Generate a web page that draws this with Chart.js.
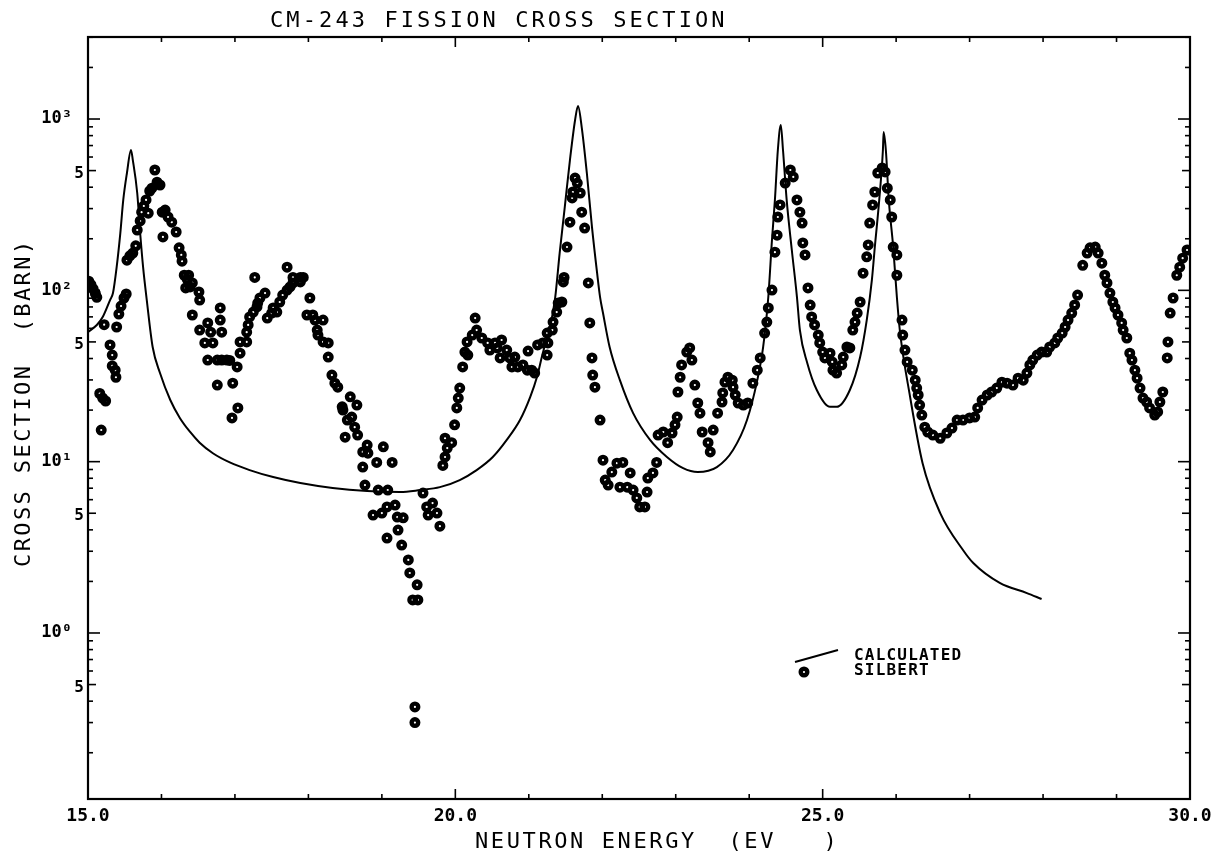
<!DOCTYPE html>
<html lang="en">
  <head>
    <meta charset="UTF-8">
    <title>CM-243 Fission Cross Section</title>
    <script src="https://cdn.jsdelivr.net/npm/chart.js"></script>
    <style>
      html, body { margin: 0; padding: 0; background: #fff; }
    </style>
  </head>
  <body>
    <canvas id="graf" width="1224" height="859"></canvas>
    <script>
        // Axis ranges (eV, barn)
        const xMin = 15, xMax = 30;
        const yMin = 0.1074, yMax = 3011;
        const xLabelTicks = [15, 20, 25, 30];
        const yDecadeLabels = { 0: '10\u2070', 1: '10\u00b9', 2: '10\u00b2', 3: '10\u00b3' };
        const yFiveLabels = [0.5, 5, 50, 500];

        // Silbert measurement (energy in eV, cross section in barn)
        const silbertE = [
            15.01, 15.04, 15.07, 15.10, 15.12, 15.16, 15.18, 15.20, 15.22, 15.24,
            15.30, 15.33, 15.33, 15.37, 15.38, 15.39, 15.42, 15.45, 15.49, 15.52,
            15.53, 15.57, 15.61, 15.65, 15.67, 15.71, 15.73, 15.76, 15.79, 15.82,
            15.84, 15.87, 15.91, 15.94, 15.98, 16.01, 16.02, 16.05, 16.09, 16.14,
            16.20, 16.24, 16.27, 16.28, 16.31, 16.33, 16.35, 16.37, 16.39, 16.42,
            16.42, 16.51, 16.52, 16.52, 16.59, 16.63, 16.63, 16.67, 16.70, 16.76,
            16.76, 16.80, 16.80, 16.82, 16.82, 16.89, 16.93, 16.96, 16.97, 17.03,
            17.04, 17.07, 17.07, 17.16, 17.16, 17.18, 17.20, 17.25, 17.27, 17.30,
            17.31, 17.34, 17.41, 17.44, 17.50, 17.52, 17.57, 17.61, 17.65, 17.71,
            17.71, 17.75, 17.79, 17.79, 17.89, 17.89, 17.93, 17.98, 18.02, 18.06,
            18.09, 18.12, 18.13, 18.20, 18.20, 18.27, 18.27, 18.32, 18.36, 18.40,
            18.46, 18.47, 18.50, 18.53, 18.57, 18.59, 18.63, 18.66, 18.67, 18.74,
            18.74, 18.77, 18.80, 18.81, 18.88, 18.93, 18.95, 19.00, 19.02, 19.07,
            19.07, 19.08, 19.14, 19.18, 19.21, 19.22, 19.27, 19.29, 19.36, 19.38,
            19.42, 19.45, 19.45, 19.48, 19.49, 19.56, 19.61, 19.63, 19.69, 19.75,
            19.79, 19.83, 19.86, 19.86, 19.89, 19.95, 19.99, 20.02, 20.04, 20.06,
            20.10, 20.13, 20.16, 20.17, 20.23, 20.27, 20.29, 20.36, 20.44, 20.47,
            20.54, 20.57, 20.61, 20.63, 20.70, 20.74, 20.77, 20.81, 20.85, 20.92,
            20.98, 20.99, 21.04, 21.08, 21.12, 21.19, 21.25, 21.25, 21.26, 21.32,
            21.33, 21.38, 21.40, 21.45, 21.47, 21.48, 21.52, 21.56, 21.59, 21.60,
            21.63, 21.66, 21.70, 21.72, 21.76, 21.81, 21.83, 21.86, 21.87, 21.90,
            21.97, 22.01, 22.04, 22.08, 22.13, 22.20, 22.24, 22.28, 22.34, 22.38,
            22.42, 22.47, 22.51, 22.58, 22.61, 22.62, 22.69, 22.74, 22.76, 22.83,
            22.89, 22.95, 22.99, 23.02, 23.03, 23.06, 23.08, 23.15, 23.19, 23.22,
            23.26, 23.30, 23.33, 23.36, 23.44, 23.47, 23.51, 23.57, 23.63, 23.64,
            23.67, 23.71, 23.77, 23.78, 23.81, 23.85, 23.92, 23.98, 24.05, 24.11,
            24.15, 24.21, 24.24, 24.26, 24.31, 24.35, 24.38, 24.39, 24.42, 24.49,
            24.56, 24.60, 24.65, 24.69, 24.72, 24.73, 24.76, 24.80, 24.83, 24.85,
            24.89, 24.94, 24.96, 25.00, 25.03, 25.10, 25.13, 25.14, 25.19, 25.26,
            25.28, 25.33, 25.37, 25.41, 25.44, 25.47, 25.51, 25.55, 25.60, 25.62,
            25.64, 25.68, 25.71, 25.75, 25.81, 25.85, 25.88, 25.92, 25.94, 25.96,
            26.01, 26.01, 26.08, 26.09, 26.12, 26.15, 26.22, 26.26, 26.28, 26.30,
            26.32, 26.35, 26.39, 26.43, 26.50, 26.60, 26.69, 26.76, 26.83, 26.91,
            27.00, 27.07, 27.11, 27.17, 27.24, 27.30, 27.37, 27.44, 27.51, 27.59,
            27.66, 27.73, 27.78, 27.82, 27.86, 27.92, 27.98, 28.05, 28.09, 28.16,
            28.20, 28.26, 28.30, 28.34, 28.39, 28.43, 28.47, 28.54, 28.60, 28.64,
            28.71, 28.75, 28.80, 28.84, 28.87, 28.91, 28.95, 28.98, 29.02, 29.07,
            29.09, 29.14, 29.18, 29.21, 29.25, 29.28, 29.32, 29.36, 29.41, 29.45,
            29.52, 29.56, 29.59, 29.63, 29.69, 29.70, 29.73, 29.77, 29.82, 29.86,
            29.90, 29.96
        ];
        const silbertXS = [
            113, 108, 102, 96, 91, 25, 15.3, 23.5, 63, 22.6,
            48, 41.9, 36.2, 34.2, 31.1, 61.1, 72.7, 81, 90.2, 95.2,
            150, 159, 165, 182, 225, 254, 286, 311, 337, 282,
            380, 395, 504, 428, 412, 286, 205, 294, 268, 250,
            219, 177, 161, 148, 122.5, 103.3, 116, 122.5, 104.7, 110.5,
            71.8, 97.8, 87.8, 58.6, 49.3, 64.5, 39.2, 57, 49.3, 39.2,
            28, 78.9, 67.1, 57, 39.2, 39.2, 39, 18, 28.7, 35.7,
            20.6, 43, 50, 50, 57, 62.8, 69.9, 74.7, 119, 80,
            84.3, 90.2, 96.4, 68.9, 73.7, 78.9, 74.7, 85.5, 93.9, 100.4,
            136.6, 104.7, 110.5, 119, 112, 119, 119, 71.8, 90.2, 71.8,
            67.1, 58.6, 54.8, 67.1, 50, 49.3, 40.8, 32, 28.7, 27.2,
            20.9, 20, 13.9, 17.5, 23.9, 18.2, 15.9, 21.4, 14.3, 11.4,
            9.3, 7.3, 12.5, 11.2, 4.88, 9.9, 6.83, 5.01, 12.2, 5.44,
            3.58, 6.83, 9.9, 5.58, 4.75, 3.99, 3.26, 4.7, 2.67, 2.24,
            1.56, 0.37, 0.30, 1.91, 1.56, 6.56, 5.44, 4.88, 5.73, 5.01,
            4.2, 9.5, 10.65, 13.7, 12.0, 12.9, 16.4, 20.6, 23.5, 26.9,
            35.7, 43.6, 50, 41.9, 54.8, 68.9, 58.6, 52.7, 49.3, 44.8,
            49.3, 46.1, 40.3, 51.3, 44.8, 40.3, 35.7, 40.8, 35.7, 36.7,
            34.2, 44.2, 34.2, 32.9, 48, 49.3, 41.9, 56.3, 49.3, 58.6,
            65.3, 74.7, 84.3, 85.5, 112, 119, 179, 250, 346, 375,
            452, 423, 370, 286, 231, 110.5, 64.5, 40.3, 32, 27.2,
            17.5, 10.2, 7.81, 7.3, 8.7, 9.8, 7.1, 9.9, 7.1, 8.6,
            6.83, 6.14, 5.44, 5.44, 6.65, 8.02, 8.6, 9.9, 14.3, 14.9,
            12.9, 14.7, 16.4, 18.2, 25.5, 31.1, 36.7, 43.6, 46.1, 39.2,
            28, 22, 19.2, 14.9, 12.9, 11.4, 15.3, 19.2, 22.3, 25.2,
            29.1, 31.1, 29.9, 27.2, 24.5, 22, 21.4, 22, 28.7, 34.2,
            40.3, 56.3, 65.3, 78.9, 100.4, 167, 210, 268, 315, 423,
            504, 459, 337, 286, 247, 189, 161, 103.3, 82.1, 69.9,
            62.8, 54.8, 49.3, 43.6, 40.3, 43, 38.2, 34.2, 32.9, 36.7,
            40.8, 46.7, 46.1, 58.6, 65.3, 73.7, 85.5, 126, 157, 184,
            247, 315, 375, 484, 518, 491, 395, 337, 268, 179,
            161, 122.5, 67.1, 54.8, 44.8, 38.2, 34.2, 29.9, 26.9, 24.5,
            21.4, 18.7, 15.9, 14.9, 14.3, 13.7, 14.7, 15.7, 17.5, 17.5,
            18, 18.2, 20.6, 22.9, 24.5, 25.5, 26.9, 29.1, 28.7, 28,
            30.7, 29.9, 32.9, 36.7, 39.2, 41.9, 43.6, 43.6, 46.7, 49.3,
            52.7, 56.3, 61.1, 67.1, 73.7, 82.1, 93.9, 140, 165, 177,
            179, 165, 144, 122.5, 110.5, 96.4, 85.5, 78.9, 71.8, 64.5,
            58.6, 52.7, 43, 39.2, 34.2, 30.7, 26.9, 23.5, 22.3, 20.6,
            18.7, 19.5, 22.3, 25.5, 40.3, 50, 73.7, 90.2, 122.5, 136.6,
            154, 172
        ];

        // Calculated curve
        const calcE = [
            15.00, 15.12, 15.20, 15.30, 15.34, 15.39, 15.44, 15.48, 15.53, 15.585,
            15.61, 15.67, 15.71, 15.75, 15.80, 15.88, 15.98, 16.12, 16.25,
            16.39, 16.52, 16.70, 16.93, 17.20, 17.52, 17.89, 18.33, 18.80, 19.25,
            19.52, 19.79, 20.06, 20.29, 20.51, 20.70, 20.88, 21.02, 21.11, 21.19,
            21.29, 21.36, 21.42, 21.49, 21.56, 21.63, 21.67, 21.72, 21.79, 21.86,
            21.93, 21.97, 22.01, 22.10, 22.24, 22.42, 22.65, 22.88, 23.10, 23.30,
            23.56, 23.78, 23.97, 24.11, 24.19, 24.26, 24.31, 24.35, 24.39, 24.43,
            24.46, 24.51, 24.58, 24.65, 24.69, 24.79, 24.92, 25.10, 25.19, 25.37,
            25.51, 25.60, 25.67, 25.71, 25.77, 25.82, 25.83, 25.86, 25.90, 25.96,
            26.01, 26.05, 26.19, 26.36, 26.60, 26.91, 27.05, 27.41, 27.78, 27.98
        ];
        const calcXS = [
            57.1, 62.8, 69.9, 87.8, 96.4, 136.6, 216, 337, 484, 659,
            576, 370, 216, 136.6, 87.8, 46.7, 32.9, 22.9, 18,
            14.9, 12.9, 11.2, 9.9, 8.93, 8.13, 7.5, 7.02, 6.74, 6.65,
            6.83, 7.1, 7.81, 8.93, 10.65, 13.4, 17.5, 23.9, 31.1, 43,
            61.1, 91.4, 165, 307, 576, 987, 1190, 898, 484, 234,
            126, 91.4, 73.7, 46.7, 29.9, 19.2, 13.4, 10.65, 9.16, 8.7,
            9.3, 11.7, 17.5, 29.9, 46.7, 91.4, 197, 337, 659, 922,
            659, 337, 172, 91.4, 58.6, 37.7, 26.2, 20.9, 20.9, 26.2,
            40.8, 67.1, 115, 179, 337, 659, 840, 659, 337, 179,
            91.4, 58.6, 23.9, 9.8, 5.01, 3.05, 2.56, 1.96, 1.71, 1.58
        ];

        const monoFont = '"DejaVu Sans Mono", "Liberation Mono", monospace';

        // Frame, inward ticks, tick labels, titles and legend
        const teikning = {
            id: 'teikning',
            afterDraw(chart) {
                const { ctx, chartArea: a, scales: { x, y } } = chart;
                const lina = (x1, y1, x2, y2) => {
                    ctx.beginPath(); ctx.moveTo(x1, y1); ctx.lineTo(x2, y2); ctx.stroke();
                };
                ctx.save();
                ctx.strokeStyle = '#000';
                ctx.fillStyle = '#000';

                ctx.lineWidth = 2.2;
                ctx.strokeRect(a.left, a.top, a.right - a.left, a.bottom - a.top);

                // x ticks every 1 eV
                ctx.lineWidth = 1.6;
                for (let e = xMin; e <= xMax; e++) {
                    const px = x.getPixelForValue(e);
                    const len = e % 5 === 0 ? 10 : 5;
                    lina(px, a.bottom, px, a.bottom - len);
                    lina(px, a.top, px, a.top + len);
                }

                // y ticks on both sides
                for (let d = -1; d <= 3; d++) {
                    for (let m = 1; m <= 9; m++) {
                        const v = m * Math.pow(10, d);
                        if (v < yMin || v > yMax) continue;
                        const py = y.getPixelForValue(v);
                        const len = m === 1 ? 12 : (m === 5 ? 8 : 5);
                        lina(a.left, py, a.left + len, py);
                        lina(a.right, py, a.right - len, py);
                    }
                }

                // y tick labels
                ctx.textBaseline = 'middle';
                ctx.textAlign = 'right';
                ctx.font = 'bold 17px ' + monoFont;
                for (const d in yDecadeLabels) {
                    ctx.fillText(yDecadeLabels[d], 72, y.getPixelForValue(Math.pow(10, +d)));
                }
                ctx.font = 'bold 16px ' + monoFont;
                for (const v of yFiveLabels) {
                    ctx.fillText('5', 84, y.getPixelForValue(v) + 3);
                }

                // titles
                ctx.textAlign = 'left';
                ctx.textBaseline = 'alphabetic';
                ctx.font = '22px ' + monoFont;
                ctx.letterSpacing = '3.1px';
                ctx.fillText('CM-243 FISSION CROSS SECTION', 270, 27);
                ctx.letterSpacing = '2.6px';
                ctx.fillText('NEUTRON ENERGY  (EV   )', 475, 848);

                ctx.save();
                ctx.translate(30, 567);
                ctx.rotate(-Math.PI / 2);
                ctx.letterSpacing = '2.4px';
                ctx.fillText('CROSS SECTION  (BARN)', 0, 0);
                ctx.restore();

                // legend
                ctx.lineWidth = 2;
                lina(795, 662, 838, 650);
                ctx.lineWidth = 4.4;
                ctx.beginPath();
                ctx.arc(804, 672, 3.3, 0, Math.PI * 2);
                ctx.stroke();
                ctx.font = 'bold 16px ' + monoFont;
                ctx.letterSpacing = '1.2px';
                ctx.textBaseline = 'middle';
                ctx.fillText('CALCULATED', 854, 656);
                ctx.fillText('SILBERT', 854, 671);
                ctx.restore();
            }
        };

        const canvas = document.getElementById('graf');
        const graf = new Chart(canvas, {
            type: 'scatter',
            data: {
                datasets: [
                    {
                        label: 'CALCULATED',
                        data: calcE.map((e, i) => ({ x: e, y: calcXS[i] })),
                        showLine: true,
                        pointRadius: 0,
                        borderColor: '#000',
                        borderWidth: 2,
                        cubicInterpolationMode: 'monotone'
                    },
                    {
                        label: 'SILBERT',
                        data: silbertE.map((e, i) => ({ x: e, y: silbertXS[i] })),
                        showLine: false,
                        pointRadius: 3.3,
                        pointBorderWidth: 4.4,
                        pointBorderColor: '#000',
                        pointBackgroundColor: 'rgba(0,0,0,0)'
                    }
                ]
            },
            options: {
                responsive: false,
                animation: false,
                devicePixelRatio: 1,
                layout: { padding: { top: 37, right: 34, bottom: 0, left: 0 } },
                plugins: { legend: { display: false }, tooltip: { enabled: false } },
                scales: {
                    x: {
                        type: 'linear',
                        min: xMin,
                        max: xMax,
                        afterFit(s) { s.height = 60; },
                        grid: { display: false, drawTicks: false },
                        border: { display: false },
                        ticks: {
                            stepSize: 1,
                            autoSkip: false,
                            maxRotation: 0,
                            padding: 7,
                            color: '#000',
                            font: { family: monoFont, size: 18, weight: 'bold' },
                            callback: v => xLabelTicks.includes(v) ? v.toFixed(1) : ''
                        }
                    },
                    y: {
                        type: 'logarithmic',
                        min: yMin,
                        max: yMax,
                        afterFit(s) { s.width = 88; },
                        grid: { display: false, drawTicks: false },
                        border: { display: false },
                        ticks: { display: false }
                    }
                }
            },
            plugins: [teikning]
        });
    </script>
  </body>
</html>
